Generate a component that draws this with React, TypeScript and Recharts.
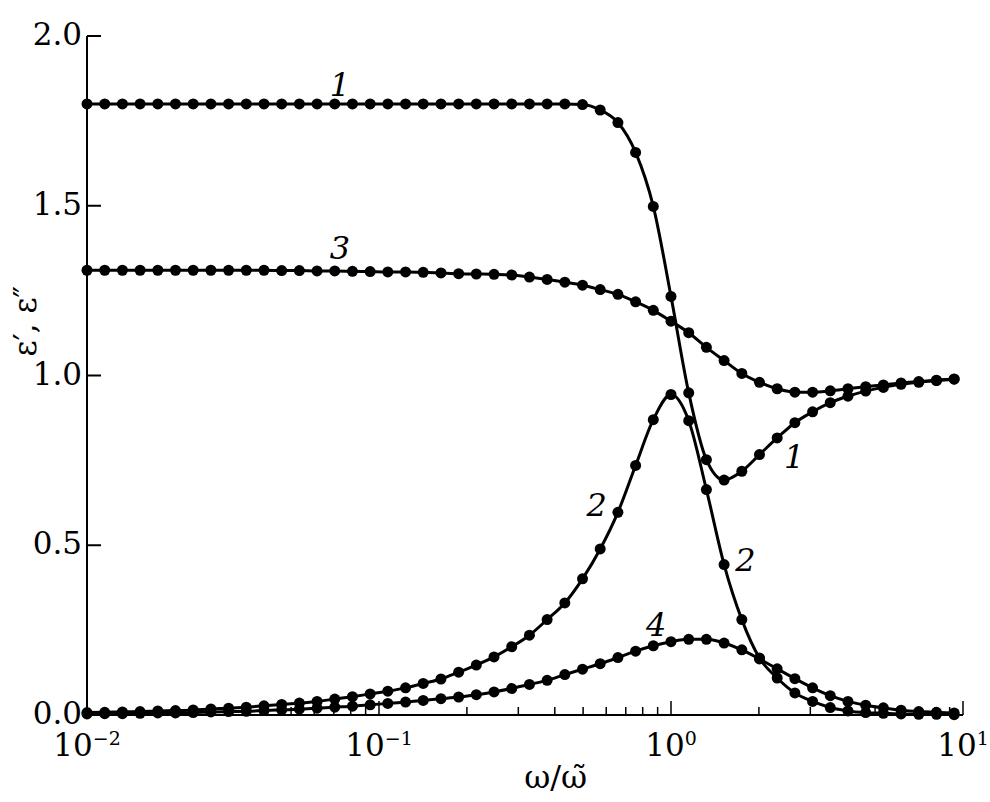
import React from "react";
import { LineChart, Line, XAxis, YAxis, ReferenceDot, Label } from "recharts";

// frequency points, omega / omega-tilde (log spaced)
const omega = [
  0.01, 0.0115, 0.01322, 0.0152, 0.01748, 0.02009, 0.0231, 0.02656, 0.03054, 0.03511,
  0.04037, 0.04642, 0.05337, 0.06136, 0.07055, 0.08111, 0.09326, 0.1072, 0.1233, 0.1417,
  0.163, 0.1874, 0.2154, 0.2477, 0.2848, 0.3275, 0.3765, 0.4329, 0.4977, 0.5722,
  0.6579, 0.7565, 0.8697, 1.0, 1.15, 1.322, 1.52, 1.748, 2.009, 2.31,
  2.656, 3.054, 3.511, 4.037, 4.642, 5.337, 6.136, 7.055, 8.111, 9.326,
];

// curve 1: eps' (strong)
const curve1 = [
  1.8, 1.8, 1.8, 1.8, 1.8, 1.8, 1.8, 1.8, 1.8, 1.8,
  1.8, 1.8, 1.8, 1.8, 1.8, 1.8, 1.8, 1.8, 1.8, 1.8,
  1.8, 1.8, 1.8, 1.8, 1.8, 1.8, 1.8, 1.8, 1.798, 1.782,
  1.745, 1.657, 1.498, 1.233, 0.949, 0.752, 0.692, 0.718, 0.767, 0.816,
  0.861, 0.893, 0.92, 0.939, 0.954, 0.965, 0.974, 0.98, 0.985, 0.989,
];

// curve 2: eps'' (strong)
const curve2 = [
  0.007, 0.008, 0.009, 0.01, 0.012, 0.013, 0.015, 0.018, 0.02, 0.023,
  0.027, 0.031, 0.035, 0.04, 0.047, 0.054, 0.062, 0.07, 0.08, 0.093,
  0.106, 0.126, 0.147, 0.171, 0.201, 0.235, 0.281, 0.33, 0.401, 0.489,
  0.597, 0.735, 0.87, 0.944, 0.867, 0.664, 0.443, 0.281, 0.168, 0.109,
  0.065, 0.04, 0.022, 0.012, 0.007, 0.005, 0.003, 0.002, 0.002, 0.001,
];

// curve 3: eps' (weak)
const curve3 = [
  1.31, 1.31, 1.31, 1.31, 1.31, 1.31, 1.31, 1.31, 1.31, 1.31,
  1.31, 1.309, 1.309, 1.308, 1.308, 1.307, 1.306, 1.305, 1.305, 1.304,
  1.302, 1.3, 1.299, 1.298, 1.296, 1.29, 1.283, 1.275, 1.266, 1.253,
  1.239, 1.217, 1.192, 1.16, 1.126, 1.083, 1.044, 1.006, 0.98, 0.961,
  0.951, 0.951, 0.955, 0.961, 0.967, 0.972, 0.978, 0.982, 0.986, 0.99,
];

// curve 4: eps'' (weak)
const curve4 = [
  0.003, 0.004, 0.004, 0.005, 0.006, 0.006, 0.007, 0.009, 0.01, 0.011,
  0.013, 0.015, 0.017, 0.02, 0.023, 0.026, 0.03, 0.034, 0.038, 0.043,
  0.048, 0.053, 0.06, 0.068, 0.078, 0.09, 0.102, 0.119, 0.135, 0.151,
  0.169, 0.188, 0.204, 0.216, 0.223, 0.223, 0.212, 0.192, 0.165, 0.136,
  0.107, 0.08, 0.057, 0.04, 0.029, 0.021, 0.014, 0.01, 0.008, 0.006,
];

const decadeTicks = [0.01, 0.1, 1, 10];
const minorTicks = [
  0.02, 0.03, 0.04, 0.05, 0.06, 0.07, 0.08, 0.09,
  0.2, 0.3, 0.4, 0.5, 0.6, 0.7, 0.8, 0.9,
  2, 3, 4, 5, 6, 7, 8, 9,
];
const yTicks = [0, 0.5, 1, 1.5, 2];

// curve number labels
const curveLabels = [
  { text: "1", x: 0.0735, y: 1.857 },
  { text: "3", x: 0.0735, y: 1.377 },
  { text: "1", x: 2.64, y: 0.762 },
  { text: "2", x: 0.556, y: 0.62 },
  { text: "2", x: 1.8, y: 0.457 },
  { text: "4", x: 0.89, y: 0.267 },
];

const data = omega.map((w, i) => ({
  w,
  c1: curve1[i],
  c2: curve2[i],
  c3: curve3[i],
  c4: curve4[i],
}));

const xTicks = [...decadeTicks, ...minorTicks].sort((a, b) => a - b);

const FONT = "'DejaVu Serif', serif";
const textStyle = { fontFamily: FONT };

const XTick = (props: any) => {
  const { x, y, payload } = props;
  const lg = Math.log10(payload.value);
  const exp = Math.round(lg);
  const major = Math.abs(lg - exp) < 1e-6;
  return (
    <g>
      <line x1={x} x2={x} y1={y} y2={y - (major ? 14 : 8)} stroke="#000" strokeWidth={1.5} />
      {major && (
        <text x={x} y={y + 41} textAnchor="middle" style={textStyle} fontSize={31} fill="#000">
          10
          <tspan dy={-11} fontSize={19}>
            {exp < 0 ? `\u2212${-exp}` : `${exp}`}
          </tspan>
        </text>
      )}
    </g>
  );
};

const YTick = (props: any) => {
  const { x, y, payload } = props;
  return (
    <g>
      <line x1={x} x2={x + 14} y1={y} y2={y} stroke="#000" strokeWidth={2} />
      <text x={x - 5} y={y + 9} textAnchor="end" style={textStyle} fontSize={31} fill="#000">
        {payload.value.toFixed(1)}
      </text>
    </g>
  );
};

const YTitle = (props: any) => {
  const vb = props.viewBox;
  const cx = vb.x + 25;
  const cy = vb.y + vb.height * 0.42;
  return (
    <text
      x={cx}
      y={cy}
      transform={`rotate(-90 ${cx} ${cy})`}
      textAnchor="middle"
      dominantBaseline="central"
      style={textStyle}
      fontSize={31}
      fill="#000"
    >
      {"\u03b5\u2032, \u03b5\u2033"}
    </text>
  );
};

const XTitle = (props: any) => {
  const vb = props.viewBox;
  return (
    <text x={vb.x + vb.width * 0.535} y={vb.y + 73} textAnchor="middle" style={textStyle} fontSize={32} fill="#000">
      {"\u03c9/\u03c9\u0303"}
    </text>
  );
};

const dotStyle = { r: 5.5, fill: "#000", stroke: "#000", strokeWidth: 0 };

export default function App() {
  return (
    <div style={{ position: "absolute", left: 0, top: 0, background: "#fff", fontFamily: FONT }}>
      <LineChart
        width={990}
        height={802}
        data={data}
        margin={{ top: 36, right: 27, bottom: 0, left: 0 }}
      >
        <XAxis
          dataKey="w"
          type="number"
          scale="log"
          domain={[0.01, 10]}
          ticks={xTicks}
          interval={0}
          tick={XTick}
          tickLine={false}
          tickSize={0}
          tickMargin={0}
          axisLine={{ stroke: "#000", strokeWidth: 2 }}
          height={87}
        >
          <Label content={XTitle} />
        </XAxis>
        <YAxis
          type="number"
          domain={[0, 2]}
          ticks={yTicks}
          interval={0}
          tick={YTick}
          tickLine={false}
          tickSize={0}
          tickMargin={0}
          axisLine={{ stroke: "#000", strokeWidth: 2 }}
          width={87}
        >
          <Label content={YTitle} />
        </YAxis>
        <Line dataKey="c1" type="monotone" stroke="#000" strokeWidth={3} dot={dotStyle} isAnimationActive={false} />
        <Line dataKey="c3" type="monotone" stroke="#000" strokeWidth={3} dot={dotStyle} isAnimationActive={false} />
        <Line dataKey="c2" type="monotone" stroke="#000" strokeWidth={3} dot={dotStyle} isAnimationActive={false} />
        <Line dataKey="c4" type="monotone" stroke="#000" strokeWidth={3} dot={dotStyle} isAnimationActive={false} />
        {curveLabels.map((l, i) => (
          <ReferenceDot key={i} x={l.x} y={l.y} r={0} fill="none" stroke="none">
            <Label
              value={l.text}
              position="center"
              style={textStyle}
              fontSize={32}
              fontStyle="italic"
              fill="#000"
            />
          </ReferenceDot>
        ))}
      </LineChart>
    </div>
  );
}
